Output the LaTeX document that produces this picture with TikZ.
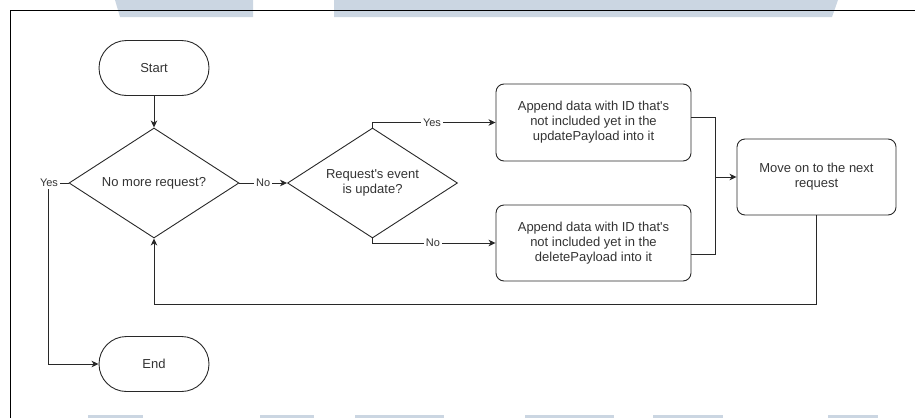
\documentclass[tikz,border=0pt]{standalone}
\usepackage{fontspec}
\setmainfont{Liberation Sans}
\usetikzlibrary{shapes.geometric,arrows.meta}

\definecolor{band}{RGB}{203,214,226}
\definecolor{ink}{RGB}{40,40,40}
\definecolor{txt}{RGB}{51,51,51}

\tikzset{
  base/.style={draw=ink, line width=0.9pt, text=txt, align=center, inner sep=0pt,
    font=\fontsize{13}{15}\selectfont},
  terminal/.style={base, rectangle, rounded corners=27.5pt,
    minimum width=110pt, minimum height=55pt},
  decision/.style={base, diamond, aspect=1.545,
    minimum width=170pt, minimum height=110pt},
  process/.style={base, rectangle, rounded corners=8pt},
  flow/.style={draw=ink, line width=0.9pt,
    -{Stealth[length=7pt,width=6.5pt,inset=2pt]}},
  link/.style={draw=ink, line width=0.9pt},
  lbl/.style={fill=white, text=txt, inner sep=2pt,
    font=\fontsize{11}{13}\selectfont}
}

\begin{document}
\begin{tikzpicture}[x=1pt, y=-1pt]
  \useasboundingbox (0,0) rectangle (915,418);

  % light banner strips along the top and bottom edges
  \fill[band] (115,0) -- (253,0) -- (253,17) -- (120,17) -- cycle;
  \fill[band] (334,0) -- (838,0) -- (832,17) -- (334,17) -- cycle;
  \foreach \a/\b in {88/143, 260/314, 355/444, 525/614, 653/723, 828/878}
    \fill[band] (\a,415) rectangle (\b,418);

  % frame
  \draw[black, line width=1pt] (10,418) -- (10,10) -- (915,10);

  % nodes
  \node[terminal] (start) at (154,68) {Start};
  \node[decision] (more) at (154,183) {No more request?};
  \node[decision] (isupd) at (372.5,183) {Request\textquotesingle s event\\is update?};
  \node[process, minimum width=195pt, minimum height=77pt] (upd) at (593.5,122.5)
    {Append data with ID that\textquotesingle s\\not included yet in the\\updatePayload into it};
  \node[process, minimum width=195pt, minimum height=76pt] (del) at (593.5,243)
    {Append data with ID that\textquotesingle s\\not included yet in the\\deletePayload into it};
  \node[process, minimum width=159pt, minimum height=76pt] (next) at (816.5,177)
    {Move on to the next\\request};
  \node[terminal] (end) at (154,364) {End};

  % bend points
  \coordinate (yesbend) at (48,183);
  \coordinate (merge) at (715,177);
  \coordinate (loop) at (154,304);

  % connectors
  \draw[flow] (start) -- (more);
  \draw[flow] (more.west) -- (yesbend) |- (end.west);
  \node[lbl] (yes1) at (49,183) {Yes};

  \draw[flow] (more.east) -- node[lbl] (no1) {No} (isupd.west);

  \draw[flow] (isupd.north) |- (upd.west);
  \node[lbl] (yes2) at (432,122.5) {Yes};
  \draw[flow] (isupd.south) |- (del.west);
  \node[lbl] (no2) at (433,243) {No};

  \draw[link] ([yshift=5.5pt]upd.east) -| (merge);
  \draw[link] ([yshift=-11pt]del.east) -| (merge);
  \draw[flow] (merge) -- (next.west);

  \draw[flow] (next.south) |- (loop) -- (more.south);
\end{tikzpicture}
\end{document}
